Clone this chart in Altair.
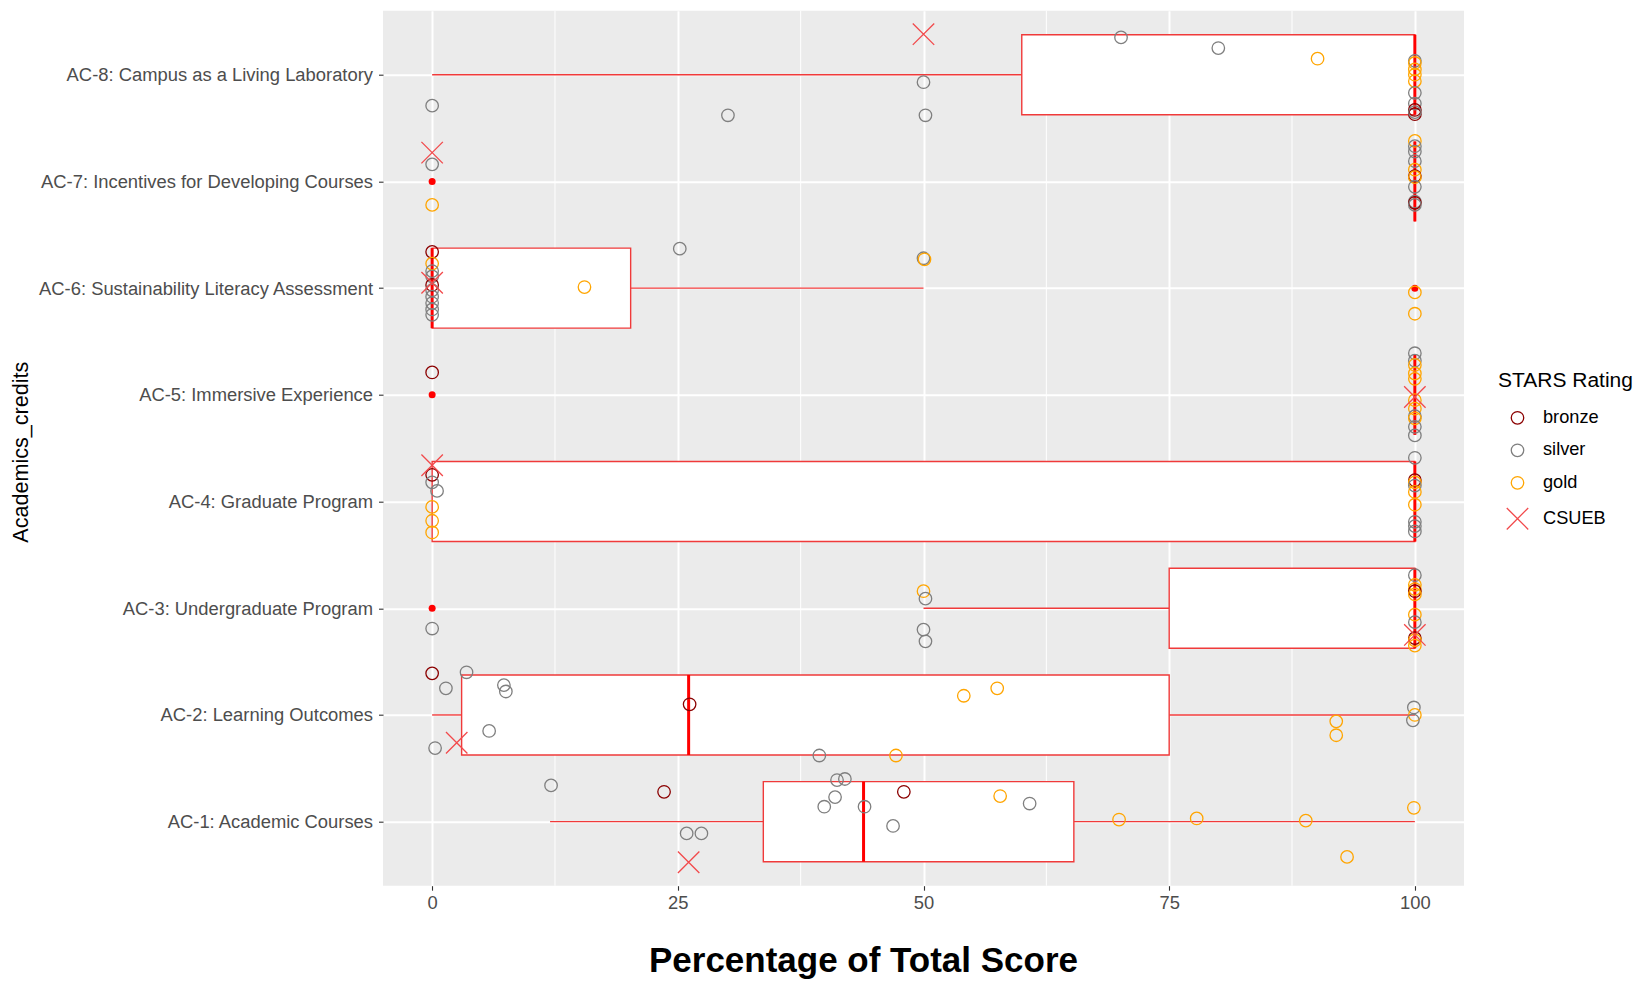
import altair as alt
import pandas as pd

categories = [
    "AC-1: Academic Courses",
    "AC-2: Learning Outcomes",
    "AC-3: Undergraduate Program",
    "AC-4: Graduate Program",
    "AC-5: Immersive Experience",
    "AC-6: Sustainability Literacy Assessment",
    "AC-7: Incentives for Developing Courses",
    "AC-8: Campus as a Living Laboratory",
]
x_ticks = [0, 25, 50, 75, 100]
x_minor = [12.5, 37.5, 62.5, 87.5]
ratings = ["bronze", "silver", "gold", "CSUEB"]

# box statistics per credit (AC-1 .. AC-8)
box_q1 = [33.7, 3.0, 75, 0, 100, 0, 100, 60]
box_median = [43.9, 26.1, 100, 100, 100, 0, 100, 100]
box_q3 = [65.3, 75, 100, 100, 100, 20.2, 100, 100]
whisker_lo = [12.0, 0, 50, 0, 100, 0, 100, 0]
whisker_hi = [100, 100, 100, 100, 100, 50, 100, 100]

outlier_credit = [7, 6, 5, 3]
outlier_score = [0, 100, 0, 0]

# jittered observations per credit (score, vertical jitter, rating)
ac1_score = [12.1, 23.6, 41.2, 42.0, 41.0, 39.9, 44.0, 48.0, 46.9, 25.9, 27.4, 26.1, 57.8, 60.8, 69.9, 77.8, 88.9, 99.9, 93.1]
ac1_jitter = [0.34, 0.28, 0.39, 0.40, 0.23, 0.14, 0.14, 0.28, -0.04, -0.11, -0.11, -0.38, 0.24, 0.17, 0.02, 0.03, 0.01, 0.13, -0.33]
ac1_rating = ["silver", "bronze", "silver", "silver", "silver", "silver", "silver", "bronze", "silver", "silver", "silver", "CSUEB", "gold", "silver", "gold", "gold", "gold", "gold", "gold"]

ac2_score = [0, 3.5, 1.4, 7.3, 7.5, 26.2, 5.8, 0.3, 2.5, 54.1, 57.5, 92.0, 92.0, 99.9, 100, 99.8, 39.4, 47.2]
ac2_jitter = [0.39, 0.40, 0.25, 0.28, 0.22, 0.10, -0.15, -0.31, -0.26, 0.18, 0.25, -0.06, -0.19, 0.07, 0.0, -0.05, -0.38, -0.38]
ac2_rating = ["bronze", "silver", "silver", "silver", "silver", "bronze", "silver", "silver", "CSUEB", "gold", "gold", "gold", "gold", "silver", "gold", "silver", "silver", "gold"]

ac3_score = [0, 50, 50.2, 50, 50.2, 100, 100, 100, 100, 100, 100, 100, 100, 100, 100, 100]
ac3_jitter = [-0.19, 0.16, 0.09, -0.20, -0.31, 0.31, 0.22, 0.18, 0.16, 0.13, -0.06, -0.13, -0.25, -0.28, -0.30, -0.35]
ac3_rating = ["silver", "gold", "silver", "silver", "silver", "silver", "gold", "gold", "bronze", "gold", "gold", "silver", "CSUEB", "bronze", "gold", "gold"]

ac4_score = [0, 0, 0, 0.5, 0, 0, 0, 100, 100, 100, 100, 100, 100, 100, 100, 100]
ac4_jitter = [0.34, 0.25, 0.18, 0.10, -0.05, -0.18, -0.29, 0.41, 0.20, 0.18, 0.15, 0.09, -0.03, -0.19, -0.23, -0.28]
ac4_rating = ["CSUEB", "bronze", "silver", "silver", "gold", "gold", "gold", "silver", "bronze", "gold", "silver", "gold", "gold", "silver", "silver", "silver"]

ac5_score = [0, 100, 100, 100, 100, 100, 100, 100, 100, 100, 100, 100, 100]
ac5_jitter = [0.21, 0.39, 0.32, 0.28, 0.20, 0.15, -0.02, -0.05, -0.13, -0.20, -0.22, -0.30, -0.38]
ac5_rating = ["bronze", "silver", "silver", "gold", "gold", "gold", "CSUEB", "gold", "gold", "silver", "gold", "silver", "silver"]

ac6_score = [0, 0, 0, 0, 0, 0, 0, 0, 0, 0, 0, 25.2, 50, 50.1, 15.5, 100, 100]
ac6_jitter = [0.34, 0.23, 0.16, 0.11, 0.05, 0.03, -0.02, -0.08, -0.14, -0.20, -0.25, 0.37, 0.28, 0.27, 0.01, -0.04, -0.24]
ac6_rating = ["bronze", "gold", "silver", "silver", "CSUEB", "bronze", "silver", "silver", "silver", "silver", "silver", "silver", "silver", "gold", "gold", "gold", "gold"]

ac7_score = [0, 0, 0, 100, 100, 100, 100, 100, 100, 100, 100, 100, 100, 100]
ac7_jitter = [0.27, 0.16, -0.22, 0.38, 0.33, 0.28, 0.19, 0.11, 0.05, 0.04, -0.05, -0.19, -0.20, -0.22]
ac7_rating = ["CSUEB", "silver", "gold", "gold", "silver", "silver", "silver", "gold", "bronze", "gold", "silver", "silver", "bronze", "silver"]

ac8_score = [50, 70.1, 80, 90.1, 50, 0, 30.1, 50.2, 100, 100, 100, 100, 100, 100, 100, 100, 100, 100]
ac8_jitter = [0.38, 0.35, 0.25, 0.15, -0.07, -0.29, -0.38, -0.38, 0.13, 0.11, 0.05, 0.0, -0.06, -0.17, -0.27, -0.33, -0.37, -0.35]
ac8_rating = ["CSUEB", "silver", "silver", "gold", "silver", "silver", "silver", "silver", "silver", "gold", "gold", "gold", "gold", "silver", "silver", "bronze", "bronze", "silver"]

groups = [
    (ac1_score, ac1_jitter, ac1_rating),
    (ac2_score, ac2_jitter, ac2_rating),
    (ac3_score, ac3_jitter, ac3_rating),
    (ac4_score, ac4_jitter, ac4_rating),
    (ac5_score, ac5_jitter, ac5_rating),
    (ac6_score, ac6_jitter, ac6_rating),
    (ac7_score, ac7_jitter, ac7_rating),
    (ac8_score, ac8_jitter, ac8_rating),
]

rows = []
for i, (sc, jt, rt) in enumerate(groups, start=1):
    for s, j, r in zip(sc, jt, rt):
        rows.append({"credit": i, "jitter": j, "score": s, "rating": r,
                     "last": 1 if r == "CSUEB" else 0})
points = pd.DataFrame(rows).sort_values("last", kind="stable")

boxes = pd.DataFrame({
    "credit": list(range(1, 9)),
    "q1": box_q1, "med": box_median, "q3": box_q3,
    "lo": whisker_lo, "hi": whisker_hi,
})
outliers = pd.DataFrame({"credit": outlier_credit, "score": outlier_score})
minor = pd.DataFrame({"v": x_minor})

FONT = "Liberation Sans"
BOX_RED = "#F03A3A"
label_expr = "[" + ",".join("'" + c + "'" for c in categories) + "][datum.value - 1]"

xs = alt.Scale(domain=[-5, 105], nice=False, zero=False)
ys = alt.Scale(domain=[0.4, 8.6], nice=False, zero=False)
x_axis = alt.Axis(values=x_ticks, title="Percentage of Total Score", titleFontSize=35,
                  titleFontWeight="bold", titleX=480, titleY=58, titleBaseline="top",
                  labelPadding=3.5)
y_axis = alt.Axis(values=list(range(1, 9)), labelExpr=label_expr, title="Academics_credits",
                  titleX=-362, titleY=441, titleAngle=270, titleBaseline="middle",
                  titleAlign="center", labelPadding=6, labelLimit=500)


def X(field):
    return alt.X(field, type="quantitative", scale=xs, axis=x_axis)


def Y(field):
    return alt.Y(field, type="quantitative", scale=ys, axis=y_axis)


minor_grid = alt.Chart(minor).mark_rule(color="white", strokeWidth=1).encode(x=X("v"))

box_base = alt.Chart(boxes).transform_calculate(
    ylo="datum.credit - 0.375", yhi="datum.credit + 0.375"
)
whisk_lo = box_base.mark_rule(color=BOX_RED, strokeWidth=1.4).encode(
    x=X("lo"), x2="q1", y=Y("credit"))
whisk_hi = box_base.mark_rule(color=BOX_RED, strokeWidth=1.4).encode(
    x=X("q3"), x2="hi", y=Y("credit"))
box_rect = box_base.mark_rect(fill="white", stroke=BOX_RED, strokeWidth=1.4).encode(
    x=X("q1"), x2="q3", y=Y("ylo"), y2="yhi")
median = box_base.mark_rule(color="#FF0000", strokeWidth=3).encode(
    x=X("med"), y=Y("ylo"), y2="yhi")

outlier_pts = alt.Chart(outliers).mark_circle(color="#FF0000", size=49, opacity=1).encode(
    x=X("score"), y=Y("credit"))

legend = alt.Legend(
    title="STARS Rating", orient="none", legendX=1115, legendY=359,
    titleFontSize=21, titleFontWeight="normal", titleColor="black", titleFont=FONT,
    labelFontSize=18.2, labelColor="black", labelFont=FONT,
    symbolStrokeWidth=1.3, rowPadding=13.5, titlePadding=18,
    symbolOffset=8, labelOffset=14, padding=0,
)
pts = alt.Chart(points).transform_calculate(
    yv="datum.credit + datum.jitter"
).mark_point(filled=False, strokeWidth=1.3, opacity=1).encode(
    x=X("score"),
    y=Y("yv"),
    color=alt.Color("rating:N", scale=alt.Scale(domain=ratings,
                    range=["#8B0000", "#7F7F7F", "#FFA500", "#F2494B"]), legend=legend),
    shape=alt.Shape("rating:N", scale=alt.Scale(domain=ratings,
                    range=["circle", "circle", "circle", "M-1,-1L1,1M1,-1L-1,1"]), legend=legend),
    size=alt.Size("rating:N", scale=alt.Scale(type="ordinal", domain=ratings,
                  range=[156, 156, 156, 460]), legend=legend),
)

chart = alt.layer(minor_grid, whisk_lo, whisk_hi, box_rect, median, outlier_pts, pts).properties(
    width=1081, height=875,
    padding={"left": 375, "top": 2.7, "right": 173, "bottom": 93},
    autosize=alt.AutoSizeParams(type="none"),
    background="white",
).configure_view(fill="#EBEBEB", stroke=None).configure_axis(
    domain=False, tickColor="#333333", tickSize=4.5, tickWidth=1.1,
    labelColor="#4D4D4D", labelFont=FONT, labelFontSize=18.4,
    gridColor="white", gridWidth=2, titleFont=FONT, titleColor="black",
    titleFontWeight="normal", titleFontSize=21.6,
)

chart.save("out.html", embed_options={"renderer": "svg", "actions": False})
